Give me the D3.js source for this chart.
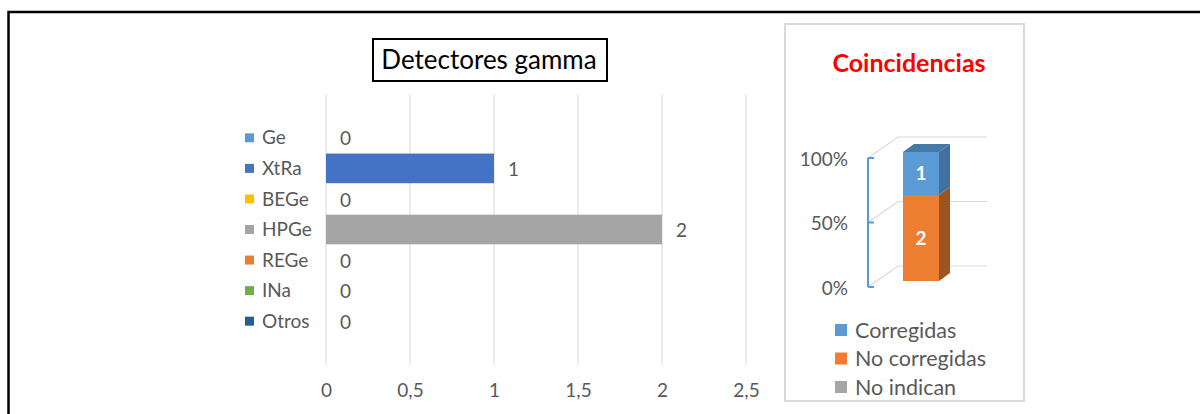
<!DOCTYPE html>
<html>
<head>
<meta charset="utf-8">
<script src="https://cdn.jsdelivr.net/npm/d3@7"></script>
<style>
  html, body { margin: 0; padding: 0; background: #ffffff; }
  svg { display: block; font-family: Lato, "Open Sans", sans-serif; }
</style>
</head>
<body>
<svg id="chart" width="1200" height="414"></svg>
<script>
// ---- Data ----
const categories = ["Ge", "XtRa", "BEGe", "HPGe", "REGe", "INa", "Otros"];
const values = [0, 1, 0, 2, 0, 0, 0];
const categoryColors = ["#5b9bd5", "#4472c4", "#ffc000", "#a5a5a5", "#ed7d31", "#70ad47", "#255e91"];
const xTicks = [0, 0.5, 1, 1.5, 2, 2.5];
const xTickLabels = ["0", "0,5", "1", "1,5", "2", "2,5"];
const leftTitle = "Detectores gamma";

const coincTitle = "Coincidencias";
const coincSeries = ["Corregidas", "No corregidas", "No indican"];
const coincValues = [1, 2, 0];
const coincColors = ["#5b9bd5", "#ed7d31", "#a5a5a5"];
const coincSideColors = ["#41719c", "#9e5420", "#7c7c7c"];
const stackOrder = ["No corregidas", "Corregidas", "No indican"];
const pctTicks = [0, 0.5, 1];
const pctTickLabels = ["0%", "50%", "100%"];

const svg = d3.select("#chart");

// ---- Outer frame ----
svg.append("rect").attr("x", 8.5).attr("y", 12).attr("width", 1210).attr("height", 420)
  .attr("fill", "none").attr("stroke", "#000").attr("stroke-width", 2.5);

// ---- Left chart ----
const x = d3.scaleLinear().domain([0, 2.5]).range([326, 746]);
const y = d3.scaleBand().domain(categories).range([123, 336]).paddingInner(0.03).paddingOuter(0);

// gridlines
svg.append("g").selectAll("line").data(xTicks).join("line")
  .attr("x1", d => x(d)).attr("x2", d => x(d))
  .attr("y1", 95).attr("y2", 365)
  .attr("stroke", "#d9d9d9").attr("stroke-width", 1);

// x axis labels
const xAxis = d3.axisBottom(x).tickValues(xTicks).tickSize(0)
  .tickFormat((d, i) => xTickLabels[i]);
const gx = svg.append("g").attr("transform", "translate(0,390)").call(xAxis);
gx.select(".domain").remove();
gx.selectAll("text").attr("fill", "#595959").attr("font-size", 19)
  .attr("font-family", "Lato, sans-serif").attr("y", 0).attr("dy", "0.35em");

// bars
const catData = categories.map((c, i) => ({ c, v: values[i], col: categoryColors[i] }));
svg.append("g").selectAll("rect").data(catData).join("rect")
  .attr("x", x(0)).attr("y", d => y(d.c))
  .attr("width", d => x(d.v) - x(0)).attr("height", y.bandwidth())
  .attr("fill", d => d.col);

// value labels
svg.append("g").selectAll("text").data(catData).join("text")
  .attr("x", d => x(d.v) + 14).attr("y", d => y(d.c) + y.bandwidth() / 2 + 1)
  .attr("dy", "0.35em").attr("fill", "#595959").attr("font-size", 19)
  .text(d => d.v);

// legend (category labels)
const lg = svg.append("g").selectAll("g").data(catData).join("g")
  .attr("transform", d => `translate(245,${y(d.c) + y.bandwidth() / 2})`);
lg.append("rect").attr("x", 0).attr("y", -4.5).attr("width", 9).attr("height", 9)
  .attr("fill", d => d.col);
lg.append("text").attr("x", 17).attr("dy", "0.35em").attr("fill", "#595959")
  .attr("font-size", 19).text(d => d.c);

// title box
svg.append("rect").attr("x", 373).attr("y", 39).attr("width", 234).attr("height", 42)
  .attr("fill", "#fff").attr("stroke", "#000").attr("stroke-width", 2);
svg.append("text").attr("x", 489).attr("y", 60).attr("dy", "0.35em")
  .attr("text-anchor", "middle").attr("font-size", 26).attr("fill", "#000")
  .text(leftTitle);

// ---- Right panel ----
svg.append("rect").attr("x", 785).attr("y", 24).attr("width", 239).attr("height", 377)
  .attr("fill", "#fff").attr("stroke", "#d9d9d9").attr("stroke-width", 2);
svg.append("text").attr("x", 909).attr("y", 63).attr("dy", "0.35em")
  .attr("text-anchor", "middle").attr("font-size", 25).attr("font-weight", "bold")
  .attr("fill", "#ff0000").text(coincTitle);

const py = d3.scaleLinear().domain([0, 1]).range([287, 158]);
const depthX = 30, depthY = -21;
const axisX = 868, wallRight = 987;

// back-wall gridlines with floor diagonals
svg.append("g").selectAll("path").data(pctTicks).join("path")
  .attr("d", d => `M${axisX},${py(d)} L${axisX + depthX},${py(d) + depthY} L${wallRight},${py(d) + depthY}`)
  .attr("fill", "none").attr("stroke", "#d9d9d9").attr("stroke-width", 1.2);

// axis
svg.append("line").attr("x1", axisX).attr("x2", axisX).attr("y1", py(1)).attr("y2", py(0))
  .attr("stroke", "#5b9bd5").attr("stroke-width", 2);
svg.append("g").selectAll("line").data(pctTicks).join("line")
  .attr("x1", axisX).attr("x2", axisX + 6).attr("y1", d => py(d)).attr("y2", d => py(d))
  .attr("stroke", "#5b9bd5").attr("stroke-width", 2);
svg.append("g").selectAll("text").data(pctTicks).join("text")
  .attr("x", 848).attr("y", d => py(d) + 1).attr("dy", "0.35em").attr("text-anchor", "end")
  .attr("fill", "#595959").attr("font-size", 19)
  .text((d, i) => pctTickLabels[i]);

// stacked 3D bar
const total = d3.sum(coincValues);
let acc = 0;
const segs = stackOrder.map(name => {
  const i = coincSeries.indexOf(name);
  const f0 = acc / total; acc += coincValues[i];
  return { name, v: coincValues[i], f0, f1: acc / total, col: coincColors[i], side: coincSideColors[i] };
}).filter(s => s.v > 0);

const fx0 = 903, fw = 36, off = { x: 9, y: -6 }, bd = { x: 11, y: -8 };
const by = f => py(f) + off.y;
const g3 = svg.append("g");
segs.forEach((s, k) => {
  g3.append("path")
    .attr("d", `M${fx0 + fw},${by(s.f1)} L${fx0 + fw + bd.x},${by(s.f1) + bd.y} L${fx0 + fw + bd.x},${by(s.f0) + bd.y} L${fx0 + fw},${by(s.f0)} Z`)
    .attr("fill", s.side);
  g3.append("rect").attr("x", fx0).attr("y", by(s.f1)).attr("width", fw)
    .attr("height", by(s.f0) - by(s.f1)).attr("fill", s.col);
  if (k === segs.length - 1) {
    g3.append("path")
      .attr("d", `M${fx0},${by(s.f1)} L${fx0 + bd.x},${by(s.f1) + bd.y} L${fx0 + fw + bd.x},${by(s.f1) + bd.y} L${fx0 + fw},${by(s.f1)} Z`)
      .attr("fill", d3.color(s.side).brighter(0.2));
  }
  g3.append("text").attr("x", fx0 + fw / 2).attr("y", (by(s.f0) + by(s.f1)) / 2)
    .attr("dy", "0.35em").attr("text-anchor", "middle").attr("fill", "#fff")
    .attr("font-weight", "bold").attr("font-size", 19).text(s.v);
});

// legend
const rl = svg.append("g").selectAll("g").data(coincSeries).join("g")
  .attr("transform", (d, i) => `translate(835,${330 + i * 28.5})`);
rl.append("rect").attr("x", 0).attr("y", -6).attr("width", 12).attr("height", 12)
  .attr("fill", (d, i) => coincColors[i]);
rl.append("text").attr("x", 20).attr("dy", "0.35em").attr("fill", "#595959")
  .attr("font-size", 21.5).text(d => d);
</script>
</body>
</html>
